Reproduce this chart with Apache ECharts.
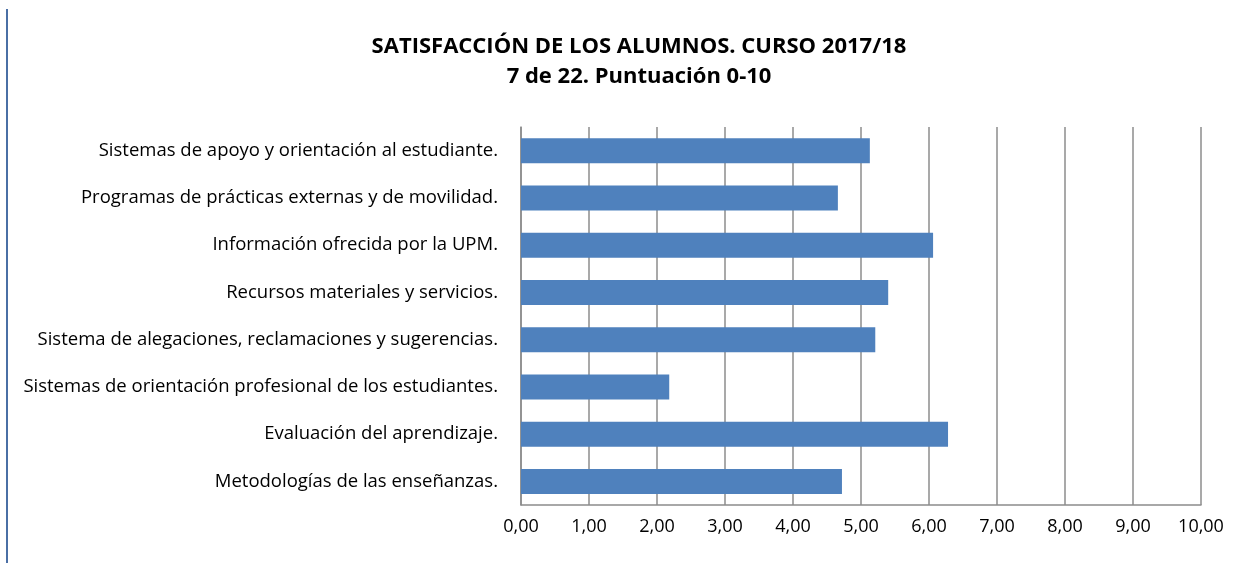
<!DOCTYPE html>
<html>
<head>
<meta charset="utf-8">
<script src="https://cdn.jsdelivr.net/npm/echarts@6/dist/echarts.min.js"></script>
<style>
    html, body { margin: 0; padding: 0; background: #fff; }
    #chart { width: 1253px; height: 563px; }
</style>
</head>
<body>
<div id="chart"></div>
<script>
    // categorias, de arriba a abajo
    const categories = [
        'Sistemas de apoyo y orientación al estudiante.',
        'Programas de prácticas externas y de movilidad.',
        'Información ofrecida por la UPM.',
        'Recursos materiales y servicios.',
        'Sistema de alegaciones, reclamaciones y sugerencias.',
        'Sistemas de orientación profesional de los estudiantes.',
        'Evaluación del aprendizaje.',
        'Metodologías de las enseñanzas.'
    ];
    const scores = [5.13, 4.66, 6.06, 5.40, 5.21, 2.18, 6.28, 4.72];
    const titleLines = ['SATISFACCIÓN DE LOS ALUMNOS. CURSO 2017/18', '7 de 22. Puntuación 0-10'];

    const font = '"Open Sans", "Noto Sans", sans-serif';
    let chart = echarts.init(document.getElementById('chart'));

    chart.setOption({
        animation: false,
        title: {
            text: titleLines.join('\n'),
            left: 634,
            textAlign: 'center',
            top: 27,
            textStyle: {
                fontFamily: font,
                fontSize: 22,
                fontWeight: 'bold',
                color: '#000',
                lineHeight: 30
            }
        },
        graphic: [{
            type: 'rect',
            shape: { x: 6, y: 9, width: 2, height: 554 },
            style: { fill: '#4a6fa5' }
        }],
        grid: {
            left: 521,
            right: 52,
            top: 127,
            bottom: 58
        },
        xAxis: {
            type: 'value',
            min: 0,
            max: 10,
            interval: 1,
            axisLine: { show: true, lineStyle: { color: '#8c8c8c', width: 1.5 } },
            axisTick: { show: false },
            splitLine: { show: true, lineStyle: { color: '#8c8c8c', width: 1.5 } },
            axisLabel: {
                margin: 13,
                fontFamily: font,
                fontSize: 18,
                color: '#000',
                formatter: function (v) { return v.toFixed(2).replace('.', ','); }
            }
        },
        yAxis: {
            type: 'category',
            inverse: true,
            data: categories,
            axisLine: { show: true, lineStyle: { color: '#8c8c8c', width: 1.5 } },
            axisTick: { show: false },
            axisLabel: {
                margin: 23,
                fontFamily: font,
                fontSize: 18.5,
                color: '#000'
            }
        },
        series: [{
            type: 'bar',
            data: scores,
            barWidth: 25,
            itemStyle: { color: '#4f81bd' }
        }]
    });
</script>
</body>
</html>
